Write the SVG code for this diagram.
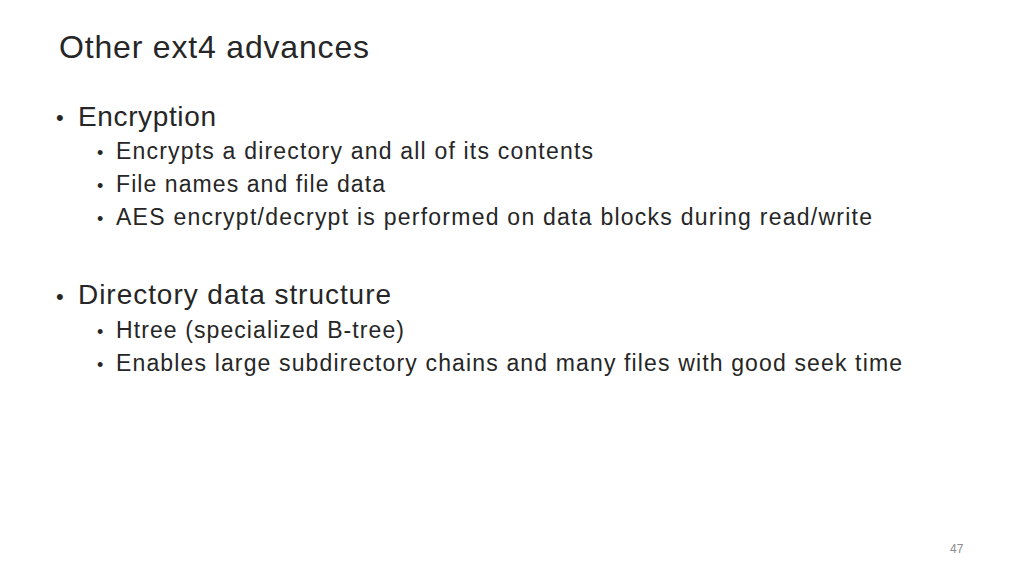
<svg xmlns="http://www.w3.org/2000/svg" width="1024" height="576" viewBox="0 0 1024 576">
<style>
text{font-family:"Liberation Sans",Arial,sans-serif;fill:#262626}
.t{font-size:32px}
.l1{font-size:28px}
.l2{font-size:23px}
.b1{font-size:22px}
.b2{font-size:18px}
</style>
<rect width="1024" height="576" fill="#fff"/>
<text class="t" x="59" y="58" textLength="310">Other ext4 advances</text>
<text class="b1" x="56" y="125">•</text>
<text class="l1" x="78" y="126" textLength="138">Encryption</text>
<text class="b2" x="97" y="159">•</text>
<text class="l2" x="116" y="159" textLength="477">Encrypts a directory and all of its contents</text>
<text class="b2" x="97" y="192">•</text>
<text class="l2" x="116" y="192" textLength="269">File names and file data</text>
<text class="b2" x="97" y="225">•</text>
<text class="l2" x="116" y="225" textLength="756">AES encrypt/decrypt is performed on data blocks during read/write</text>
<text class="b1" x="56" y="304">•</text>
<text class="l1" x="78" y="304" textLength="313">Directory data structure</text>
<text class="b2" x="97" y="338">•</text>
<text class="l2" x="116" y="338" textLength="288">Htree (specialized B-tree)</text>
<text class="b2" x="97" y="371">•</text>
<text class="l2" x="116" y="371" textLength="786">Enables large subdirectory chains and many files with good seek time</text>
<text x="950" y="553" style="font-size:12px;fill:#8c8c8c">47</text>
</svg>
